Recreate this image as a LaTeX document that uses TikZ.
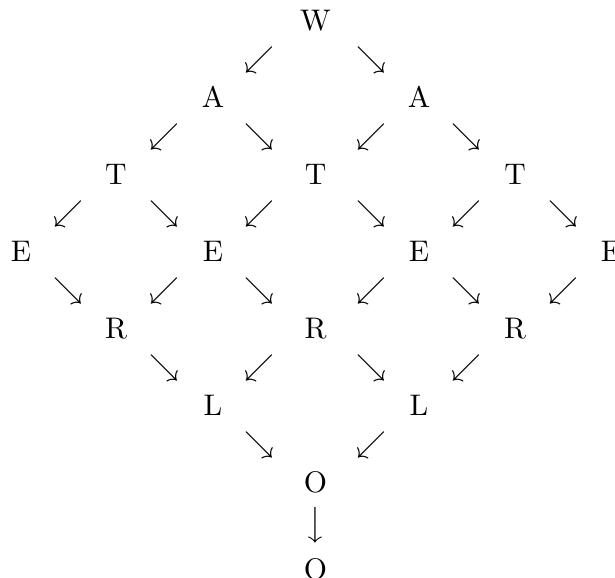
\documentclass[tikz,border=0pt]{standalone}
\begin{document}
\begin{tikzpicture}[x=0.3356pt,y=-0.3356pt,
  letter/.style={anchor=base,inner sep=0pt,font=\fontsize{10}{12}\selectfont},
  arr/.style={anchor=center,inner sep=0pt,font=\fontsize{10}{12}\selectfont}]
\useasboundingbox (0,0) rectangle (615,577);
% letters
\node[letter] (w)  at (315.5,30) {W};
\node[letter] (a1) at (213,107) {A};
\node[letter] (a2) at (419,107) {A};
\node[letter] (t1) at (116,184) {T};
\node[letter] (t2) at (315.5,184) {T};
\node[letter] (t3) at (515,184) {T};
\node[letter] (e1) at (21,261) {E};
\node[letter] (e2) at (213,261) {E};
\node[letter] (e3) at (419,261) {E};
\node[letter] (e4) at (611,261) {E};
\node[letter] (r1) at (116,338) {R};
\node[letter] (r2) at (315.5,338) {R};
\node[letter] (r3) at (515,338) {R};
\node[letter] (l1) at (213,415) {L};
\node[letter] (l2) at (419,415) {L};
\node[letter] (o1) at (315.5,492) {O};
\node[letter] (o2) at (315.5,579) {O};
% arrows
\node[arr] (s1) at (259.5,60) {$\swarrow$};
\node[arr] (s2) at (371.5,60) {$\searrow$};
\node[arr] (s3) at (164,137) {$\swarrow$};
\node[arr] (s4) at (259.5,137) {$\searrow$};
\node[arr] (s5) at (371.5,137) {$\swarrow$};
\node[arr] (s6) at (466.5,137) {$\searrow$};
\node[arr] (s7) at (68,214) {$\swarrow$};
\node[arr] (s8) at (164,214) {$\searrow$};
\node[arr] (s9) at (259.5,214) {$\swarrow$};
\node[arr] (s10) at (371.5,214) {$\searrow$};
\node[arr] (s11) at (466.5,214) {$\swarrow$};
\node[arr] (s12) at (563,214) {$\searrow$};
\node[arr] (s13) at (68,291) {$\searrow$};
\node[arr] (s14) at (164,291) {$\swarrow$};
\node[arr] (s15) at (259.5,291) {$\searrow$};
\node[arr] (s16) at (371.5,291) {$\swarrow$};
\node[arr] (s17) at (466.5,291) {$\searrow$};
\node[arr] (s18) at (563,291) {$\swarrow$};
\node[arr] (s19) at (164,368) {$\searrow$};
\node[arr] (s20) at (259.5,368) {$\swarrow$};
\node[arr] (s21) at (371.5,368) {$\searrow$};
\node[arr] (s22) at (466.5,368) {$\swarrow$};
\node[arr] (s23) at (259.5,445) {$\searrow$};
\node[arr] (s24) at (371.5,445) {$\swarrow$};
\node[arr] (s25) at (315.5,525) {$\big\downarrow$};
\end{tikzpicture}
\end{document}
